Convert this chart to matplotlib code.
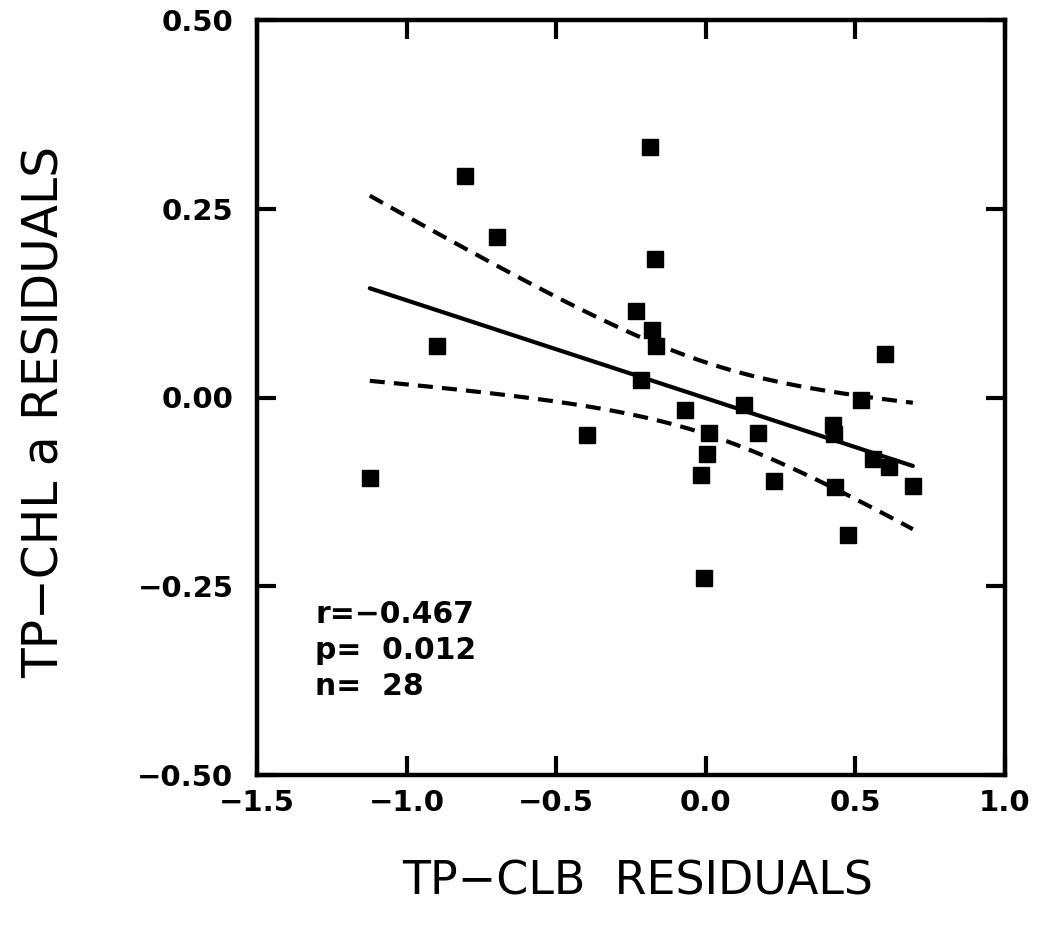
import numpy as np
import matplotlib
matplotlib.use("Agg")
import matplotlib.pyplot as plt

# Data
x_resid = [-1.123, -0.898, -0.806, -0.697, -0.397, -0.185, -0.171, -0.233,
           -0.180, -0.165, -0.218, -0.071, 0.127, 0.520, 0.598, 0.012,
           0.173, 0.005, -0.015, 0.229, 0.425, 0.428, 0.431, 0.559,
           0.612, 0.692, 0.476, -0.005]
y_resid = [-0.107, 0.068, 0.293, 0.212, -0.050, 0.332, 0.183, 0.114,
           0.090, 0.068, 0.023, -0.016, -0.010, -0.003, 0.058, -0.047,
           -0.047, -0.075, -0.103, -0.111, -0.036, -0.048, -0.119, -0.081,
           -0.092, -0.117, -0.182, -0.239]

stats_lines = ["r=\u22120.467", "p=  0.012", "n=  28"]
x_ticks = [-1.5, -1.0, -0.5, 0.0, 0.5, 1.0]
y_ticks = [-0.50, -0.25, 0.00, 0.25, 0.50]
x_label = "TP\u2212CLB  RESIDUALS"
y_label = "TP\u2212CHL a RESIDUALS"
T_CRIT = 2.056  # t(0.975, df=26)

x = np.array(x_resid)
y = np.array(y_resid)
n = len(x)
slope, intercept = np.polyfit(x, y, 1)
xs = np.linspace(x.min(), x.max(), 100)
yhat = intercept + slope * xs
resid = y - (intercept + slope * x)
s = np.sqrt(np.sum(resid ** 2) / (n - 2))
sxx = np.sum((x - x.mean()) ** 2)
hw = T_CRIT * s * np.sqrt(1.0 / n + (xs - x.mean()) ** 2 / sxx)

fig = plt.figure(figsize=(10.40, 9.39), dpi=100)
ax = fig.add_axes([257 / 1040, 1 - 775 / 939, (1005 - 257) / 1040, (775 - 20) / 939])

ax.plot(xs, yhat, color="black", lw=3.0, solid_capstyle="round")
ax.plot(xs, yhat + hw, color="black", lw=3.0, ls=(0, (3.6, 2.2)))
ax.plot(xs, yhat - hw, color="black", lw=3.0, ls=(0, (3.6, 2.2)))
ax.plot(x, y, ls="none", marker="s", ms=11.5, color="black")

ax.set_xlim(-1.5, 1.0)
ax.set_ylim(-0.5, 0.5)
ax.set_xticks(x_ticks)
ax.set_yticks(y_ticks)
ax.set_xticklabels([f"{v:.1f}".replace("-", "\u2212") for v in x_ticks])
ax.set_yticklabels([f"{v:.2f}".replace("-", "\u2212") for v in y_ticks])
ax.tick_params(direction="in", length=14, width=3, top=True, right=True,
               labelsize=21)
ax.tick_params(axis="y", pad=17)
ax.tick_params(axis="x", pad=10)
for lab in ax.get_xticklabels() + ax.get_yticklabels():
    lab.set_fontweight("bold")
for sp in ax.spines.values():
    sp.set_linewidth(3.2)

ax.text(0.078, 0.232, "\n".join(stats_lines), transform=ax.transAxes,
        fontsize=21.5, fontweight="bold", va="top", ha="left", linespacing=1.3)

fig.text(638 / 1040, 1 - 882 / 939, x_label, fontsize=33, ha="center", va="center")
fig.text(45 / 1040, 1 - 412 / 939, y_label, fontsize=35, ha="center", va="center",
         rotation=90)

fig.savefig("out.png", dpi=100)
